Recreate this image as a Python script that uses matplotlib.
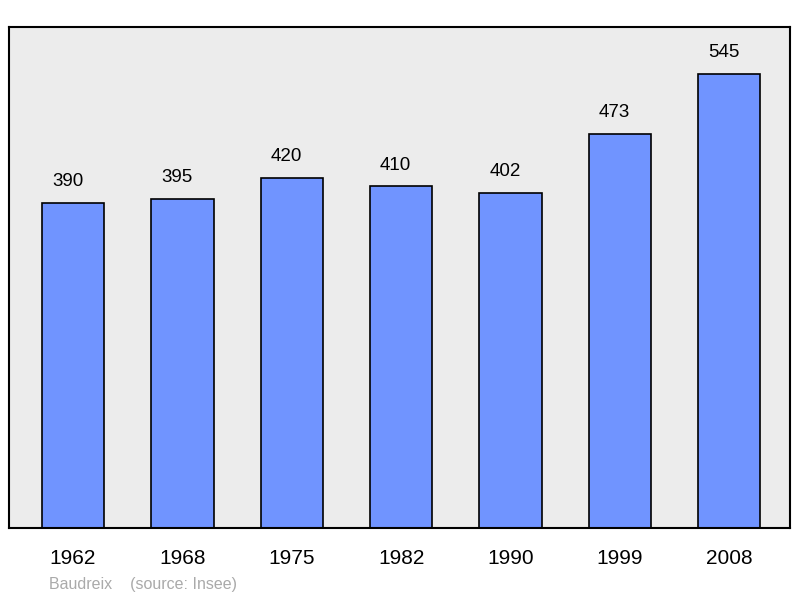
import matplotlib
matplotlib.use("Agg")
import matplotlib.pyplot as plt

years = ["1962", "1968", "1975", "1982", "1990", "1999", "2008"]
population = [390, 395, 420, 410, 402, 473, 545]

plt.rcParams['font.family'] = ['Liberation Sans', 'DejaVu Sans']

fig = plt.figure(figsize=(8, 5.98), dpi=100)
ax = fig.add_axes([9/800, 1 - 528/598, 781/800, 501/598])
ax.set_facecolor("#ececec")

x = range(len(years))
ax.bar(x, population, width=0.57, color="#7094ff", edgecolor="black", linewidth=1.2, zorder=2)
for xi, v in zip(x, population):
    ax.text(xi - 0.05, v + 15, str(v), ha="center", va="bottom", fontsize=13.5)

ax.set_xlim(-0.585, 6.555)
ax.set_ylim(0, 601)
ax.set_yticks([])
ax.set_xticks(list(x))
ax.set_xticklabels(years, fontsize=15)
ax.tick_params(axis="x", length=0, pad=15)
for s in ax.spines.values():
    s.set_linewidth(1.5)

fig.text(49/800, 1 - 584/598, "Baudreix    (source: Insee)", color="#aaaaaa", fontsize=11.5, va="center")

fig.savefig("out.png", dpi=100)
